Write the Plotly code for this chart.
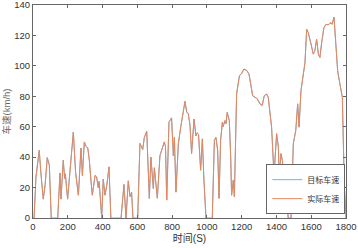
import plotly.graph_objects as go

time_s = [0, 6, 17, 25, 36, 45, 59, 70, 82, 94, 105, 142, 155, 161, 174, 182, 186, 199, 215, 232,
          245, 261, 276, 284, 295, 305, 315, 324, 333, 341, 357, 366, 375, 380, 388, 395, 404, 414, 425, 437,
          448, 506, 523, 535, 548, 558, 567, 575, 602, 615, 631, 640, 654, 669, 678, 692, 698, 707, 715, 730,
          742, 755, 762, 769, 782, 797, 807, 813, 822, 836, 850, 868, 874, 884, 893, 903, 912, 926, 937, 943,
          952, 964, 974, 983, 995, 1031, 1043, 1052, 1062, 1070, 1079, 1089, 1093, 1104, 1110, 1117, 1129, 1137, 1142, 1152,
          1158, 1171, 1187, 1200, 1213, 1229, 1242, 1252, 1263, 1277, 1290, 1305, 1318, 1330, 1343, 1353, 1363, 1372, 1386, 1401,
          1411, 1416, 1426, 1434, 1447, 1455, 1468, 1484, 1497, 1511, 1522, 1530, 1541, 1554, 1564, 1574, 1583, 1597, 1612, 1621,
          1631, 1641, 1650, 1660, 1673, 1685, 1697, 1714, 1720, 1731, 1740, 1752, 1765, 1779, 1790, 1797, 1800]

target_speed = [0, 0, 27, 35, 44.5, 30, 12.4, 22, 39.7, 34.7, 0, 0, 29.6, 12.4, 37.9, 26, 29, 12.4, 35, 56.5,
                30, 15, 46, 28, 50, 47, 46, 38, 25, 15, 28, 27, 20, 24, 12, 0, 25.5, 15, 22, 33.6,
                0, 0, 22, 0, 24.4, 14, 17, 0, 0, 49, 45, 52.8, 57, 12.9, 40, 19.4, 33, 22, 13, 41,
                45, 50, 47, 11.8, 63, 65.8, 41, 53, 17, 49, 60, 72.8, 76.7, 69.5, 68.6, 60.8, 42.3, 65, 54, 56,
                55, 31.4, 52, 25, 0, 0, 51, 53, 44.5, 12.9, 51, 63, 60, 64, 62, 69.5, 64, 40, 15, 25,
                14, 81.5, 93.5, 95, 97.9, 97, 94.6, 88, 80.4, 79.3, 78.3, 75, 74, 80.4, 81.5, 79.3, 66, 59.7, 28, 55.4,
                46.6, 27, 42.3, 38, 21, 18.3, 0, 0, 48.8, 57.5, 75, 59.7, 83.7, 92.4, 102, 124, 121.8, 115.3, 107.7, 110,
                117.5, 107.7, 105.5, 115.3, 125, 127.3, 127, 128.4, 127.3, 132, 118.6, 96.8, 88, 79.3, 22.7, 0, 0]

# actual speed: same trace, but during stops it sits just below zero (hidden under the axis)
actual_speed = [-1, -1, 27, 35, 44.5, 30, 12.4, 22, 39.7, 34.7, -1, -1, 29.6, 12.4, 37.9, 26, 29, 12.4, 35, 56.5,
                30, 15, 46, 28, 50, 47, 46, 38, 25, 15, 28, 27, 20, 24, 12, 0, 25.5, 15, 22, 33.6,
                -1, -1, 22, 0, 24.4, 14, 17, -1, -1, 49, 45, 52.8, 57, 12.9, 40, 19.4, 33, 22, 13, 41,
                45, 50, 47, 11.8, 63, 65.8, 41, 53, 17, 49, 60, 72.8, 76.7, 69.5, 68.6, 60.8, 42.3, 65, 54, 56,
                55, 31.4, 52, 25, -1, -1, 51, 53, 44.5, 12.9, 51, 63, 60, 64, 62, 69.5, 64, 40, 15, 25,
                14, 81.5, 93.5, 95, 97.9, 97, 94.6, 88, 80.4, 79.3, 78.3, 75, 74, 80.4, 81.5, 79.3, 66, 59.7, 28, 55.4,
                46.6, 27, 42.3, 38, 21, 18.3, -1, -1, 48.8, 57.5, 75, 59.7, 83.7, 92.4, 102, 124, 121.8, 115.3, 107.7, 110,
                117.5, 107.7, 105.5, 115.3, 125, 127.3, 127, 128.4, 127.3, 132, 118.6, 96.8, 88, 79.3, 22.7, 0, 0]

x_ticks = [0, 200, 400, 600, 800, 1000, 1200, 1400, 1600, 1800]
y_ticks = [0, 20, 40, 60, 80, 100, 120, 140]

font_family = "Liberation Sans, Arial, Noto Sans CJK SC, sans-serif"

fig = go.Figure()
fig.add_trace(go.Scatter(x=time_s, y=target_speed, mode="lines", name="目标车速",
                         line=dict(color="#6fb2e2", width=1)))
fig.add_trace(go.Scatter(x=time_s, y=actual_speed, mode="lines", name="实际车速",
                         line=dict(color="#e8875c", width=1)))

axis_common = dict(showline=True, linecolor="#666666", linewidth=1, mirror="ticks",
                   ticks="inside", ticklen=3, tickcolor="#666666", showgrid=False, zeroline=False,
                   automargin=False, ticklabeloverflow="allow",
                   tickfont=dict(size=9.5, color="#333333", family=font_family))

fig.update_xaxes(range=[0, 1800], tickvals=x_ticks, **axis_common,
                 title=dict(text="时间(S)", font=dict(size=10, color="#333333", family=font_family), standoff=3))
fig.update_yaxes(range=[0, 140], tickvals=y_ticks, **axis_common,
                 title=dict(text="车速(km/h)", font=dict(size=9.5, color="#666666", family=font_family), standoff=1))

fig.update_layout(
    width=358, height=248,
    margin=dict(l=33, r=12, t=5, b=30),
    paper_bgcolor="white", plot_bgcolor="white",
    showlegend=True,
    legend=dict(x=0.998, y=0.018, xanchor="right", yanchor="bottom",
                bgcolor="white", bordercolor="#666666", borderwidth=1,
                font=dict(size=8, color="#333333", family=font_family),
                itemwidth=30, tracegroupgap=0),
)

fig.write_html("out.html", config={"displayModeBar": False},
               post_script="document.body.style.margin='0';document.body.style.overflow='hidden';")
